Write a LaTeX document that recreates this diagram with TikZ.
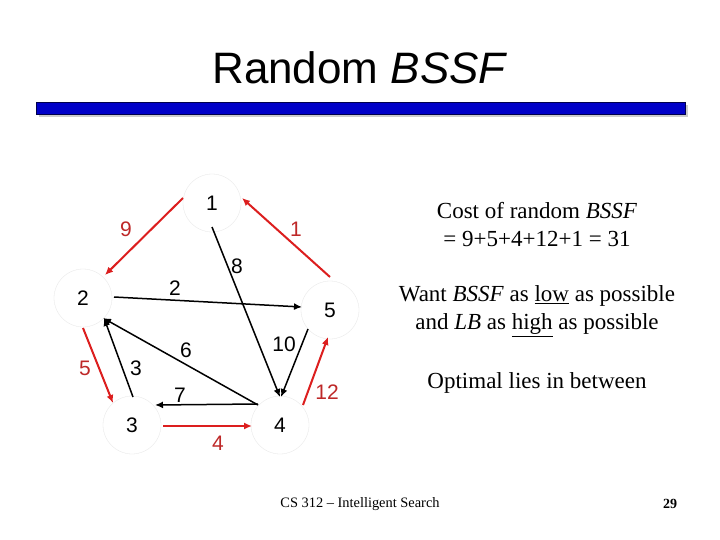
\documentclass[tikz,border=0pt]{standalone}
\usepackage{fontspec}
\setmainfont{Liberation Serif}
\newfontfamily\arialf{Liberation Sans}
\usetikzlibrary{arrows.meta}
\definecolor{rd}{RGB}{220,30,30}
\definecolor{lbl}{RGB}{190,40,40}
\definecolor{barblue}{RGB}{0,0,200}
\begin{document}
\begin{tikzpicture}[x=1pt,y=-1pt,
  vtx/.style={circle,draw=gray!20,line width=0.3pt,minimum size=58pt,inner sep=0pt,font=\arialf\fontsize{21}{21}\selectfont},
  red edge/.style={draw=rd,line width=2pt,-{Latex[length=8pt,width=7pt]}},
  blk edge/.style={draw=black,line width=1.5pt,-{Latex[length=8pt,width=7pt]}},
  wl/.style={font=\arialf\fontsize{21}{21}\selectfont},
  rl/.style={wl,text=lbl},
  txt/.style={font=\fontsize{23}{28}\selectfont,align=center}]
\useasboundingbox[fill=white] (0,0) rectangle (720,540);
\node[font=\arialf\fontsize{44}{44}\selectfont] (title) at (360,68) {Random \textit{BSSF}};
\fill[gray!40] (39,105) rectangle (688,117);
\draw[fill=barblue,draw=black!70!blue,line width=0.6pt] (36,102) rectangle (685,114);
\node[vtx] (n1) at (212,203) {1};
\node[vtx] (n2) at (83,298) {2};
\node[vtx] (n5) at (330,310) {5};
\node[vtx] (n3) at (132,425) {3};
\node[vtx] (n4) at (280,425) {4};
\coordinate (a) at (183,198); \coordinate (b) at (105,275);
\coordinate (c) at (330,277); \coordinate (d) at (242,198);
\coordinate (e) at (114,297); \coordinate (f) at (302,307);
\coordinate (g) at (83,328);  \coordinate (h) at (113,403);
\coordinate (i) at (133,397); \coordinate (j) at (104,318);
\coordinate (k) at (258,405); \coordinate (l) at (103,318);
\coordinate (m) at (258,404); \coordinate (o) at (155,405);
\coordinate (p) at (163,426); \coordinate (q) at (252,426);
\coordinate (r) at (212,227); \coordinate (s) at (280,397);
\coordinate (t) at (308,329); \coordinate (u) at (281,397);
\coordinate (v) at (303,405); \coordinate (w) at (328,337);
\draw[red edge] (a) -- (b);
\draw[red edge] (c) -- (d);
\draw[red edge] (g) -- (h);
\draw[red edge] (p) -- (q);
\draw[red edge] (v) -- (w);
\draw[blk edge] (e) -- (f);
\draw[blk edge] (r) -- (s);
\draw[blk edge] (i) -- (j);
\draw[blk edge] (k) -- (l);
\draw[blk edge] (m) -- (o);
\draw[blk edge] (t) -- (u);
\node[rl] (l9) at (126,229) {9};
\node[rl] (l1) at (296,229) {1};
\node[wl] (l8) at (237,266) {8};
\node[wl] (l2) at (175,288) {2};
\node[wl] (l10) at (284,344) {10};
\node[wl] (l6) at (186,350) {6};
\node[wl] (l3) at (136,368) {3};
\node[rl] (l5) at (85,368) {5};
\node[wl] (l7) at (180,395) {7};
\node[rl] (l12) at (327,392) {12};
\node[rl] (l4) at (218,443) {4};
\node[txt] (t1) at (537,225) {Cost of random \textit{BSSF}\\= 9+5+4+12+1 = 31};
\node[txt] (t2) at (537,311) {Want \textit{BSSF} as \underline{low} as possible\\and \textit{LB} as \underline{high} as possible};
\node[txt] (t3) at (537,383) {Optimal lies in between};
\node[font=\fontsize{14.4}{14}\selectfont] (f1) at (360,504) {CS 312 -- Intelligent Search};
\node[font=\bfseries\fontsize{14}{14}\selectfont] (f2) at (670,504) {29};
\end{tikzpicture}
\end{document}
